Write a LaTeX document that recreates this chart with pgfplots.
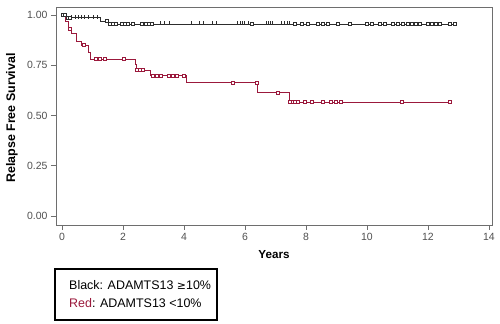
\documentclass[border=0pt]{standalone}
\usepackage{fontspec}
\setmainfont{Liberation Sans}
\newfontfamily\symfont{DejaVu Sans}
\usepackage{pgfplots}
\pgfplotsset{compat=1.18}
\definecolor{kmred}{RGB}{155,25,60}
\definecolor{kmblack}{RGB}{45,45,45}
\definecolor{axgray}{RGB}{110,110,110}
\definecolor{txtgray}{RGB}{80,80,80}
\begin{document}
\begin{tikzpicture}
\useasboundingbox[fill=white] (0,0) rectangle (500bp,324bp);
\begin{axis}[
  at={(56bp,99bp)}, anchor=south west,
  scale only axis, width=436bp, height=218bp,
  xmin=-0.2, xmax=14.1, ymin=-0.045, ymax=1.04,
  xtick={0,2,...,14}, ytick={0,0.25,0.5,0.75,1},
  yticklabel style={/pgf/number format/.cd,fixed,fixed zerofill,precision=2},
  /pgf/number format/assume math mode=true,
  tick label style={font=\fontsize{10.5}{12}\selectfont, text=txtgray},
  xtick pos=bottom, ytick pos=left, tick align=outside,
  major tick length=5bp,
  every tick/.style={axgray, line width=0.6bp},
  axis line style={axgray, line width=0.8bp},
  xlabel={Years}, ylabel={Relapse Free Survival},
  every axis x label/.style={at={(axis description cs:0.5,0)}, anchor=center, yshift=-30bp, font=\fontsize{11.7}{13}\selectfont\bfseries},
  every axis y label/.style={at={(axis description cs:0,0.5)}, anchor=center, xshift=-44bp, yshift=-2bp, rotate=90, font=\fontsize{12.5}{14}\selectfont\bfseries},
  clip=false,
]
% black step curve
\addplot[const plot, kmblack, line width=0.6bp] coordinates {
 (0,1.0) (0.15,0.987) (1.24,0.97) (1.50,0.955) (12.87,0.955)};
% red step curve
\addplot[const plot, kmred, line width=0.6bp] coordinates {
 (0,1.0) (0.12,0.97) (0.20,0.934) (0.31,0.909) (0.47,0.871) (0.64,0.85)
 (0.85,0.817) (0.91,0.78) (2.40,0.755) (2.45,0.726) (2.88,0.70)
 (4.06,0.663) (6.39,0.615) (7.44,0.566) (12.71,0.566)};
% black censor squares
\addplot[only marks, mark=square*, mark size=1.5bp, mark options={draw=kmblack, fill=white, line width=0.5bp}] coordinates {
 (0.02,1.0) (0.09,1.0) (0.18,0.987) (0.25,0.987) (1.45,0.97)
 (1.56,0.955) (1.66,0.955) (1.76,0.955) (1.96,0.955) (2.06,0.955) (2.15,0.955)
 (2.32,0.955) (2.61,0.955) (2.74,0.955) (2.84,0.955) (2.94,0.955)
 (6.22,0.955) (7.63,0.955) (7.86,0.955) (8.06,0.955) (8.39,0.955) (8.56,0.955)
 (8.72,0.955) (9.04,0.955) (9.43,0.955) (9.99,0.955) (10.16,0.955) (10.42,0.955)
 (10.58,0.955) (10.84,0.955) (11.0,0.955) (11.17,0.955) (11.33,0.955) (11.46,0.955)
 (11.59,0.955) (11.72,0.955) (11.98,0.955) (12.12,0.955) (12.25,0.955) (12.38,0.955)
 (12.71,0.955) (12.87,0.955)};
% black censor ticks
\addplot[only marks, mark=|, mark size=2bp, mark options={draw=kmblack, line width=0.5bp}] coordinates {
 (0.31,0.99) (0.42,0.99) (0.52,0.99) (0.64,0.99) (0.74,0.99) (0.85,0.99) (1.02,0.99) (1.15,0.99)
 (3.21,0.958) (3.34,0.958) (3.50,0.958) (4.25,0.958) (4.50,0.958) (4.62,0.958) (4.94,0.958)
 (5.07,0.958) (5.76,0.958) (5.83,0.958) (5.92,0.958) (5.99,0.958) (6.09,0.958) (6.71,0.958)
 (6.77,0.958) (6.82,0.958) (6.88,0.958) (7.20,0.958) (7.30,0.958) (7.38,0.958) (7.46,0.958)};
% red censor squares
\addplot[only marks, mark=square*, mark size=1.5bp, mark options={draw=kmred, fill=white, line width=0.5bp}] coordinates {
 (0.25,0.934) (0.71,0.85) (1.10,0.78) (1.24,0.78) (1.40,0.78) (2.02,0.78)
 (2.45,0.726) (2.55,0.726) (2.65,0.726) (2.97,0.70) (3.10,0.70) (3.24,0.70)
 (3.50,0.70) (3.63,0.70) (3.76,0.70) (3.99,0.70) (5.60,0.663) (6.37,0.663)
 (7.08,0.615) (7.46,0.566) (7.55,0.566) (7.63,0.566) (7.72,0.566) (7.96,0.566)
 (8.20,0.566) (8.55,0.566) (8.81,0.566) (8.98,0.566) (9.14,0.566) (11.15,0.566)
 (12.71,0.566)};
\end{axis}
\draw[black, line width=1.2bp] (55bp,4bp) rectangle (217bp,55bp);
\node[anchor=base west, inner sep=0pt, font=\fontsize{12.5}{14}\selectfont] at (69bp,35bp) {Black: ADAMTS13 {\symfont\fontsize{11}{12}\selectfont ≥}10\%};
\node[anchor=base west, inner sep=0pt, font=\fontsize{12.5}{14}\selectfont] at (69bp,17bp) {\textcolor{kmred}{Red}: ADAMTS13 <10\%};
\end{tikzpicture}
\end{document}
